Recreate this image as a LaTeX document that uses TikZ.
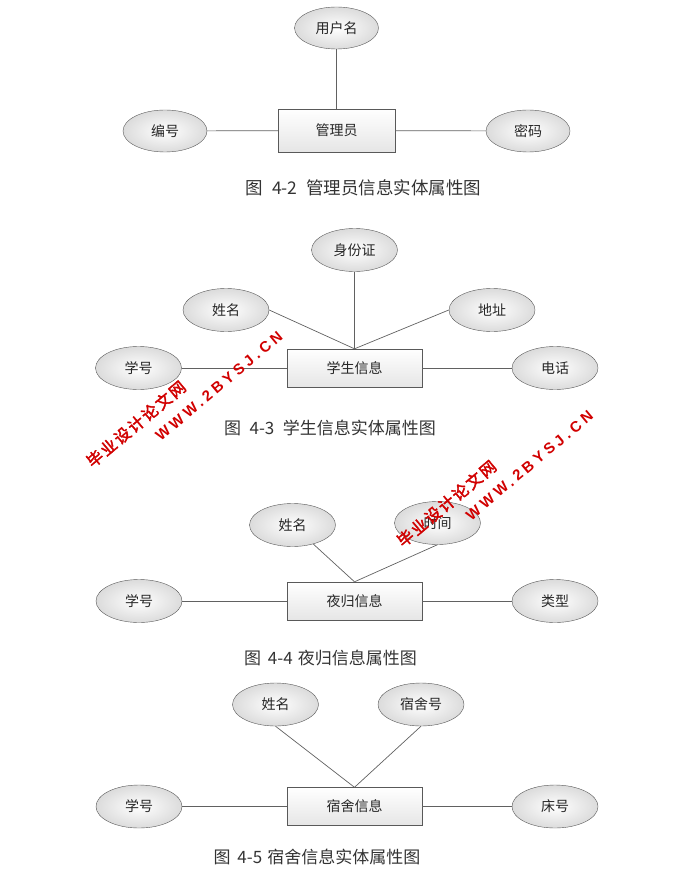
\documentclass[tikz,border=0pt]{standalone}
\usepackage{fontspec}
\setmainfont{Noto Sans CJK SC}
\newfontfamily\wmcn[FakeBold=2.5,LetterSpace=12]{Noto Sans CJK SC}
\newfontfamily\wmurl[LetterSpace=25]{Liberation Sans}
\usetikzlibrary{shapes.geometric}

\begin{document}
\begin{tikzpicture}[x=1pt, y=-1pt,
  attr/.style={ellipse, draw=black!65, inner color=white, outer color=black!14, minimum width=86pt, minimum height=43pt, inner sep=0pt, font=\fontsize{14}{14}\selectfont, text=black!85},
  ent/.style={rectangle, draw=black!65, top color=white, bottom color=black!10, minimum width=135pt, minimum height=38pt, inner sep=0pt, font=\fontsize{14}{14}\selectfont, text=black!85},
  lnk/.style={draw=black!62, line width=0.7pt},
  figcap/.style={font=\fontsize{17}{17}\selectfont, text=black!80},
  wm/.style={text=red!82!black, rotate=40, inner sep=0pt}]
  \useasboundingbox (0,0) rectangle (693,869);

  \node[ent, minimum width=117pt, minimum height=43pt] (m) at (336.5,130.5) {管理员};
  \node[attr, minimum width=84pt, minimum height=42pt] (m1) at (336.5,28) {用户名};
  \node[attr, minimum width=84pt, minimum height=42pt] (m2) at (165,131) {编号};
  \node[attr, minimum width=84pt, minimum height=42pt] (m3) at (528,131) {密码};
  \draw[lnk] (m1) -- (m);
  \draw[lnk] (m2) -- (m);
  \draw[lnk] (m3) -- (m);
  \node[figcap, font=\fontsize{17.5}{17.5}\selectfont] (c1) at (363.5,188) {图\hspace{0.5em}4-2\hspace{0.5em}管理员信息实体属性图};

  \node[ent] (s) at (354.5,368) {学生信息};
  \node[attr] (s1) at (354.5,250) {身份证};
  \node[attr] (s2) at (226,310) {姓名};
  \node[attr] (s3) at (492,310) {地址};
  \node[attr] (s4) at (138.5,368) {学号};
  \node[attr] (s5) at (555,368) {电话};
  \draw[lnk] (s1) -- (s.north);
  \draw[lnk] (s2.east) -- (s.north);
  \draw[lnk] (s3.west) -- (s.north);
  \draw[lnk] (s4) -- (s);
  \draw[lnk] (s5) -- (s);
  \node[figcap] (c2) at (330,428) {图\hspace{0.5em}4-3\hspace{0.5em}学生信息实体属性图};

  \node[ent] (y) at (354.5,601) {夜归信息};
  \node[attr] (y1) at (292.5,525) {姓名};
  \node[attr] (y2) at (437.5,523) {时间};
  \node[attr] (y3) at (139,601) {学号};
  \node[attr] (y4) at (555,601) {类型};
  \draw[lnk] (y1) -- (y.north);
  \draw[lnk] (y2.south) -- (y.north);
  \draw[lnk] (y3) -- (y);
  \draw[lnk] (y4) -- (y);
  \node[figcap] (c3) at (330.5,658) {图\hspace{0.4em}4-4\hspace{0.3em}夜归信息属性图};

  \node[ent] (d) at (354.5,806.5) {宿舍信息};
  \node[attr] (d1) at (275.5,704.5) {姓名};
  \node[attr] (d2) at (421,704.5) {宿舍号};
  \node[attr] (d3) at (139,806.5) {学号};
  \node[attr] (d4) at (555,806.5) {床号};
  \draw[lnk] (d1.south) -- (d.north);
  \draw[lnk] (d2.south) -- (d.north);
  \draw[lnk] (d3) -- (d);
  \draw[lnk] (d4) -- (d);
  \node[figcap] (c4) at (317,857) {图\hspace{0.4em}4-5\hspace{0.3em}宿舍信息实体属性图};

  \node[wm, font=\wmcn\fontsize{16}{16}\selectfont] (w1) at (136,424) {毕业设计论文网};
  \node[wm, font=\wmurl\bfseries\fontsize{15}{15}\selectfont] (w2) at (219,386) {WWW.2BYSJ.CN};
  \node[wm, font=\wmcn\fontsize{16}{16}\selectfont] (w3) at (446.5,503.5) {毕业设计论文网};
  \node[wm, font=\wmurl\bfseries\fontsize{15}{15}\selectfont] (w4) at (529.5,465.5) {WWW.2BYSJ.CN};
\end{tikzpicture}
\end{document}
